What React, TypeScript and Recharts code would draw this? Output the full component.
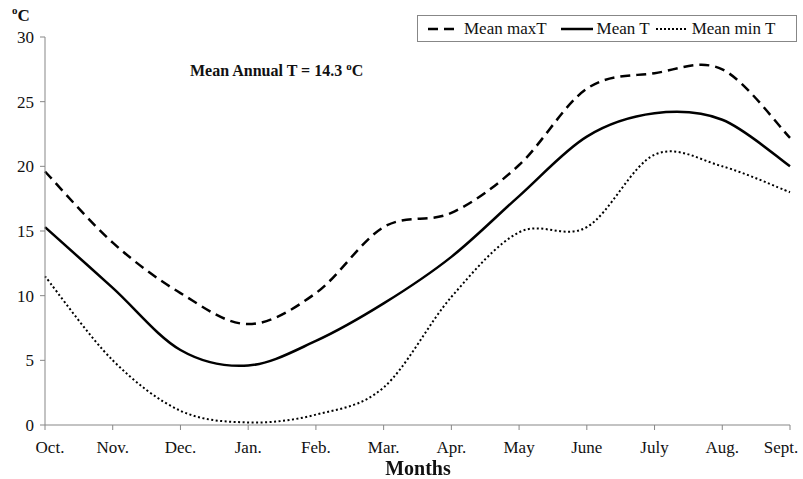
import { Line, LineChart, XAxis, YAxis, Legend } from "recharts"

const months = ["Oct.", "Nov.", "Dec.", "Jan.", "Feb.", "Mar.", "Apr.", "May", "June", "July", "Aug.", "Sept."]
const meanMax = [19.6, 14.1, 10.2, 7.8, 10.2, 15.3, 16.4, 20.1, 26.0, 27.2, 27.5, 22.2]
const meanT = [15.3, 10.6, 5.8, 4.6, 6.5, 9.4, 13.0, 17.7, 22.3, 24.1, 23.6, 20.0]
const meanMin = [11.5, 5.0, 1.1, 0.2, 0.8, 2.9, 9.9, 14.9, 15.3, 20.9, 20.0, 18.0]
const yTicks = [0, 5, 10, 15, 20, 25, 30]

const data = months.map((m, i) => ({ month: m, max: meanMax[i], mean: meanT[i], min: meanMin[i] }))

const FONT = '"Liberation Serif", "Times New Roman", serif'
const AXIS = "#878787"

// smoothed line like a spreadsheet chart: catmull-rom through every point
function smoothCurve(context: any) {
  let pts: number[][] = []
  return {
    areaStart() {},
    areaEnd() {},
    lineStart() {
      pts = []
    },
    point(x: number, y: number) {
      pts.push([+x, +y])
    },
    lineEnd() {
      if (!pts.length) return
      context.moveTo(pts[0][0], pts[0][1])
      for (let i = 0; i < pts.length - 1; i++) {
        const p0 = pts[i - 1] || pts[i]
        const p1 = pts[i]
        const p2 = pts[i + 1]
        const p3 = pts[i + 2] || p2
        context.bezierCurveTo(
          p1[0] + (p2[0] - p0[0]) / 6,
          p1[1] + (p2[1] - p0[1]) / 6,
          p2[0] - (p3[0] - p1[0]) / 6,
          p2[1] - (p3[1] - p1[1]) / 6,
          p2[0],
          p2[1]
        )
      }
    },
  }
}

function MonthTick(props: any) {
  const { x, y, payload, index } = props
  // keep the end labels inside the frame
  const dx = index === 0 ? 5 : index === months.length - 1 ? -9 : 0
  return (
    <text x={x + dx} y={y + 21} textAnchor="middle" fontFamily={FONT} fontSize={17} fill="#111">
      {payload.value}
    </text>
  )
}

function LegendBox() {
  const item = (dash: string | undefined, w: number, label: string, gap: number) => (
    <span style={{ display: "inline-flex", alignItems: "center", marginRight: gap }}>
      <svg width={w} height={6} style={{ marginRight: 4 }}>
        <line x1={0} y1={3} x2={w} y2={3} stroke="#000" strokeWidth={dash === "2 2" ? 2 : 2.5} strokeDasharray={dash} />
      </svg>
      {label}
    </span>
  )
  return (
    <div
      style={{
        position: "absolute",
        left: 417,
        top: 15,
        width: 368,
        height: 25,
        border: `1px solid ${AXIS}`,
        background: "#fff",
        fontFamily: FONT,
        fontSize: 17,
        color: "#111",
        display: "flex",
        alignItems: "center",
        paddingLeft: 10,
        boxSizing: "content-box",
        whiteSpace: "nowrap",
      }}
    >
      {item("10 6", 32, "Mean maxT", 14)}
      {item(undefined, 32, "Mean T", 6)}
      {item("2 2", 32, "Mean min T", 0)}
    </div>
  )
}

export default function App() {
  return (
    <div style={{ position: "fixed", left: 0, top: 0, width: 803, height: 479, background: "#fff" }}>
      <LineChart width={803} height={479} data={data} margin={{ top: 37, right: 13, bottom: 24, left: 10 }}>
        <XAxis
          dataKey="month"
          stroke={AXIS}
          tickSize={5}
          height={30}
          interval={0}
          tick={<MonthTick />}
          tickLine={{ stroke: AXIS }}
        />
        <YAxis
          domain={[0, 30]}
          ticks={yTicks}
          width={35}
          stroke={AXIS}
          tickSize={5}
          tick={{ fontFamily: FONT, fontSize: 17, fill: "#111" }}
          tickMargin={6}
        />
        <Legend content={() => null} />
        <Line dataKey="max" type={smoothCurve as any} stroke="#000" strokeWidth={2.5} strokeDasharray="10 6" dot={false} isAnimationActive={false} />
        <Line dataKey="mean" type={smoothCurve as any} stroke="#000" strokeWidth={2.5} dot={false} isAnimationActive={false} />
        <Line dataKey="min" type={smoothCurve as any} stroke="#000" strokeWidth={2} strokeDasharray="2 2.5" dot={false} isAnimationActive={false} />
      </LineChart>
      <LegendBox />
      <div style={{ position: "absolute", left: 12, top: 4, fontFamily: FONT, fontWeight: "bold", fontSize: 17, color: "#111" }}>
        <sup style={{ fontSize: 11 }}>o</sup>C
      </div>
      <div style={{ position: "absolute", left: 190, top: 60, fontFamily: FONT, fontWeight: "bold", fontSize: 16, color: "#111", whiteSpace: "nowrap" }}>
        Mean Annual T = 14.3 <sup style={{ fontSize: 11 }}>o</sup>C
      </div>
      <div style={{ position: "absolute", left: 0, width: 836, top: 457, textAlign: "center", fontFamily: FONT, fontWeight: "bold", fontSize: 20, color: "#111" }}>
        Months
      </div>
    </div>
  )
}
